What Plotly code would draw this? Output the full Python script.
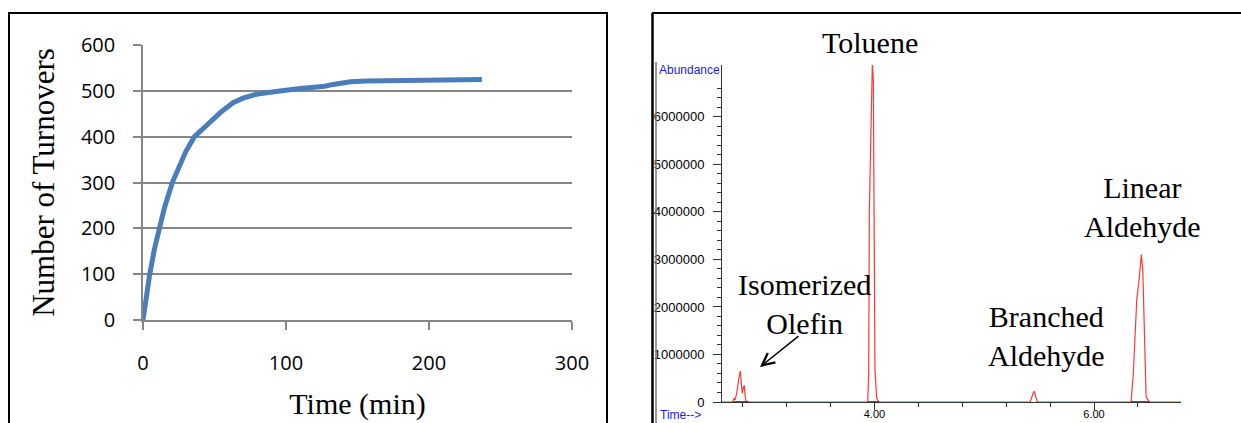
import plotly.graph_objects as go

# ---- Panel A: turnover kinetics ----
time_min = [0, 2, 4.7, 8, 11.2, 15, 20.5, 25, 30, 36, 40, 45, 50, 55, 60, 63, 70,
            75, 80, 86.5, 92, 98, 104, 110, 116, 121, 127, 133, 139, 145, 156,
            170, 180, 190, 203, 215, 225, 237]
turnovers = [0, 45, 100, 155, 200, 245, 300, 335, 368, 400, 412, 428, 443, 455,
             467, 474, 484, 489, 493, 496, 499, 501, 503, 505, 506, 507, 510,
             514, 518, 520, 521.5, 522, 522, 523, 524, 524, 524.5, 525]
kin_xticks = [0, 100, 200, 300]

# ---- Panel B: GC trace (retention time in min, abundance counts) ----
ret_time = [2.612, 2.709, 2.722, 2.730, 2.739, 2.751, 2.765, 2.779, 2.790, 2.797,
            2.806, 2.815, 2.824, 2.833,
            3.939, 3.948, 3.954, 3.975, 3.981, 3.990, 3.996, 4.005, 4.021, 4.042,
            5.417, 5.454, 5.484,
            6.337, 6.358, 6.371, 6.389, 6.413, 6.431, 6.444, 6.453, 6.462, 6.474,
            6.504, 6.792]
abundance = [0, 0, 80000, 40000, 120000, 250000, 500000, 650000, 350000, 180000,
             300000, 350000, 100000, 0,
             0, 610000, 4040000, 6420000, 7130000, 6770000, 4460000, 670000, 80000, 0,
             0, 230000, 0,
             0, 600000, 1300000, 2150000, 2640000, 3100000, 2780000, 2000000,
             950000, 110000, 0, 0]
# integration baseline marks under the integrated peaks
int_time = [2.716, 2.853, None, 3.939, 4.042, None, 6.337, 6.504]
int_level = [0, 0, None, 0, 0, None, 0, 0]
abund_ticks = [0, 1000000, 2000000, 3000000, 4000000, 5000000, 6000000]
time_ticks = [4.0, 6.0]
peak_labels = ["Toluene", "Isomerized<br>Olefin", "Branched<br>Aldehyde", "Linear<br>Aldehyde"]

W, H = 1241, 423


def px(x):
    return x / W


def py(y):
    return (H - y) / H


fig = go.Figure()

fig.add_trace(go.Scatter(
    x=time_min, y=turnovers, mode="lines", xaxis="x", yaxis="y",
    line=dict(color="#4a7ebb", width=5), showlegend=False, hoverinfo="skip"))

fig.add_trace(go.Scatter(
    x=ret_time, y=abundance, mode="lines", xaxis="x2", yaxis="y2",
    line=dict(color="#ff3838", width=1.2), showlegend=False, hoverinfo="skip"))

fig.add_trace(go.Scatter(
    x=int_time, y=int_level, mode="lines", xaxis="x2", yaxis="y2",
    line=dict(color="#222222", width=1.5), showlegend=False, hoverinfo="skip"))

grey = "#868686"
dark = "#333333"
serif = "Liberation Serif"

# minor tick positions on the abundance axis (every 200000, below the top)
abund_minor = [i * 200000 for i in range(34) if i % 5]

fig.update_layout(
    template="none",
    width=W, height=H, autosize=False,
    margin=dict(l=0, r=0, t=0, b=0, pad=0),
    paper_bgcolor="white", plot_bgcolor="white",
    xaxis=dict(
        domain=[px(143), px(572)], range=[0, 300], tickvals=kin_xticks,
        automargin=False,
        showgrid=False, zeroline=False, showline=True, linecolor=grey, linewidth=1.5,
        ticks="outside", ticklen=8, tickcolor=grey, tickwidth=1.5,
        tickfont=dict(family="Open Sans", size=20, color="black"),
        ticklabelstandoff=16,
        title=dict(text="Time (min)", font=dict(family=serif, size=30, color="black"),
                   standoff=18),
        anchor="y"),
    yaxis=dict(
        domain=[py(320), py(45)], range=[0, 600], dtick=100,
        automargin=False,
        showgrid=True, gridcolor=grey, gridwidth=1.5, zeroline=False,
        showline=True, linecolor=grey, linewidth=1.5,
        ticks="outside", ticklen=8, tickcolor=grey, tickwidth=1.5,
        tickfont=dict(family="Open Sans", size=20, color="black"),
        ticklabelstandoff=14,
        title=dict(text="Number of Turnovers", font=dict(family=serif, size=31, color="black"),
                   standoff=17),
        anchor="x"),
    xaxis2=dict(
        domain=[px(722), px(1181)], range=[2.612, 6.792], tickvals=time_ticks,
        tickformat=".2f", showgrid=False, zeroline=False, automargin=False,
        showline=True, linecolor=dark, linewidth=1,
        ticks="outside", ticklen=7, tickcolor=dark, tickwidth=1,
        minor=dict(dtick=0.4, tick0=0, ticks="outside", ticklen=4,
                   tickcolor=dark, tickwidth=1, showgrid=False),
        tickfont=dict(family="Liberation Sans", size=11, color="black"),
        ticklabelstandoff=-5,
        anchor="y2"),
    yaxis2=dict(
        domain=[py(402), py(65)], range=[0, 7.09e6], tickvals=abund_ticks,
        tickformat="d", showgrid=False, zeroline=False, automargin=False,
        showline=True, linecolor=dark, linewidth=1,
        ticks="outside", ticklen=8, tickcolor=dark, tickwidth=1,
        minor=dict(tickvals=abund_minor, ticks="outside", ticklen=4,
                   tickcolor=dark, tickwidth=1, showgrid=False),
        tickfont=dict(family="Liberation Sans", size=13, color="black"),
        ticklabelstandoff=6,
        anchor="x2"),
)

# panel frames
fig.add_shape(type="rect", xref="paper", yref="paper",
              x0=px(9), x1=px(607), y0=py(440), y1=py(13),
              line=dict(color="black", width=2), layer="above")
fig.add_shape(type="line", xref="paper", yref="paper",
              x0=px(652), x1=px(1250), y0=py(13), y1=py(13),
              line=dict(color="black", width=2), layer="above")
fig.add_shape(type="line", xref="paper", yref="paper",
              x0=px(652.5), x1=px(652.5), y0=py(13), y1=py(440),
              line=dict(color="black", width=2.5), layer="above")
fig.add_shape(type="line", xref="paper", yref="paper",
              x0=px(656), x1=px(656), y0=py(62), y1=py(440),
              line=dict(color="#777777", width=1.5), layer="above")

label_font = dict(family=serif, size=30, color="black")
label_pos = [(870, 42), (804, 304), (1046, 336), (1142, 207)]
for text, (lx, ly) in zip(peak_labels, label_pos):
    fig.add_annotation(text=text, x=px(lx), y=py(ly), xref="paper", yref="paper",
                       showarrow=False, font=label_font, align="center",
                       xanchor="center", yanchor="middle")

# arrow pointing at the olefin peaks
fig.add_annotation(text="", x=px(760), y=py(367), xref="paper", yref="paper",
                   ax=40, ay=-32, showarrow=True, arrowhead=5, arrowsize=1.6,
                   arrowwidth=1.5, arrowcolor="black")

blue = dict(family="Liberation Sans", size=12, color="#1a1aff")
fig.add_annotation(text="Abundance", x=px(657), y=py(70), xref="paper", yref="paper",
                   showarrow=False, font=blue, xanchor="left", yanchor="middle")
fig.add_annotation(text="Time-->", x=px(658), y=py(415), xref="paper", yref="paper",
                   showarrow=False, font=blue, xanchor="left", yanchor="middle")

fig.write_html("out.html")
